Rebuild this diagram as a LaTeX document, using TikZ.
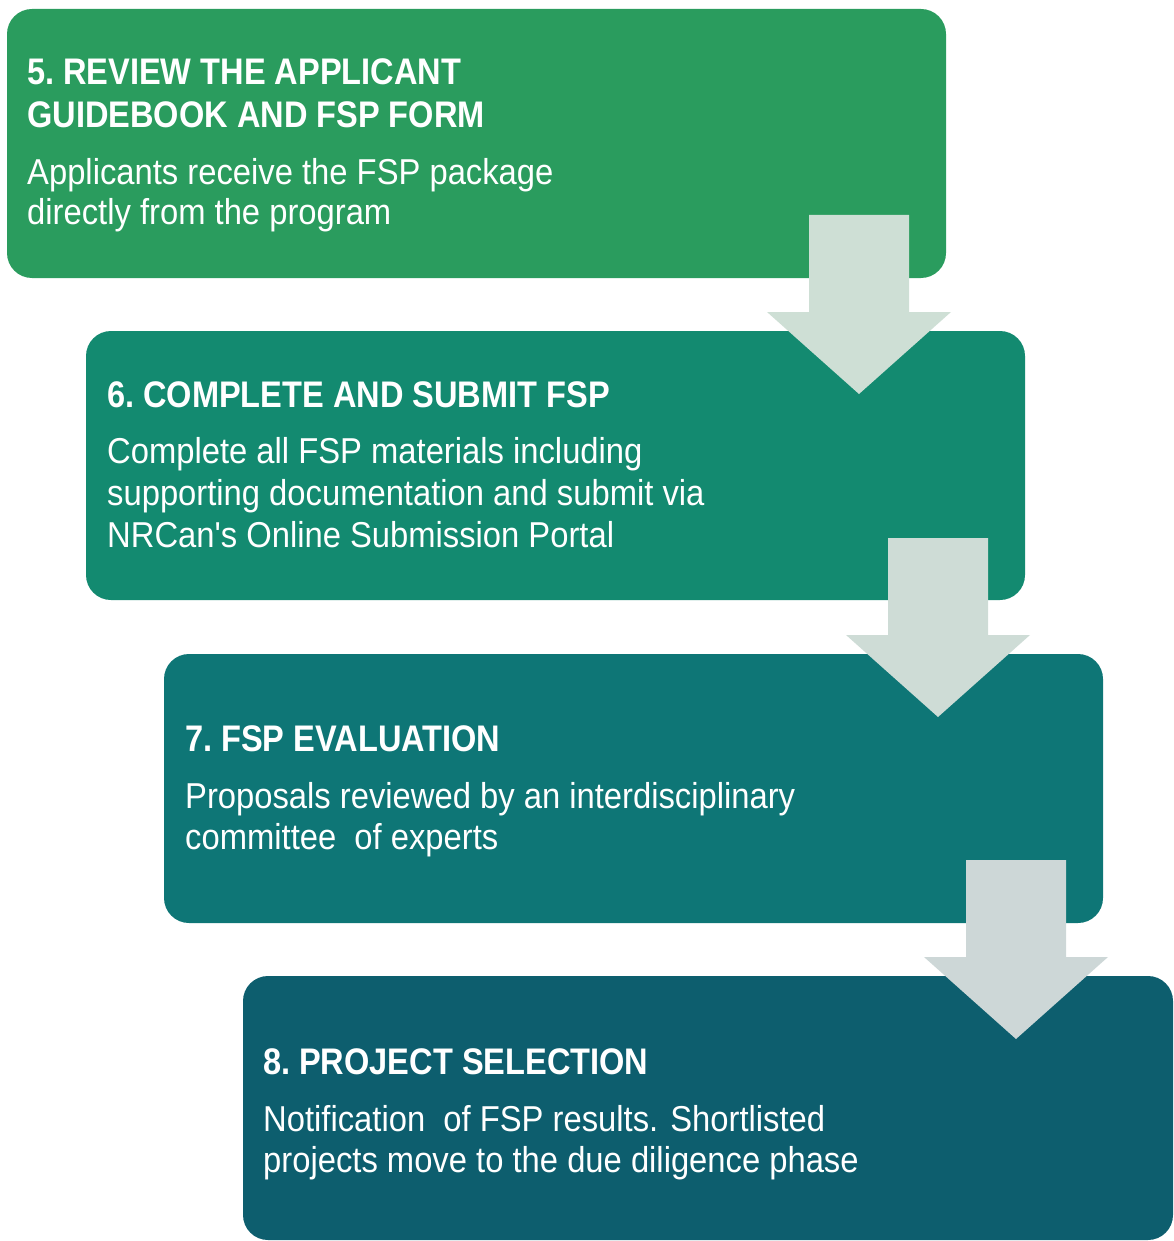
\documentclass[tikz,border=0pt]{standalone}
\usepackage{fontspec}
\setmainfont{Liberation Sans}
\newfontfamily\headfont{Liberation Sans}[FakeStretch=0.88]
\newfontfamily\bodyfont{Liberation Sans}[FakeStretch=0.91]
\definecolor{stepA}{HTML}{2A9C5E}
\definecolor{stepB}{HTML}{138A70}
\definecolor{stepC}{HTML}{0E7676}
\definecolor{stepD}{HTML}{0D5E6E}
\definecolor{arrowA}{HTML}{CEDFD5}
\definecolor{arrowB}{HTML}{CEDCD6}
\definecolor{arrowC}{HTML}{CDD7D7}
\begin{document}
\begin{tikzpicture}[x=1pt,y=-1pt,
  panel/.style={rounded corners=25pt},
  headline/.style={anchor=base west,inner sep=0pt,text=white,
    font=\headfont\bfseries\fontsize{37}{42}\selectfont},
  bodyline/.style={anchor=base west,inner sep=0pt,text=white,
    font=\bodyfont\fontsize{36}{41}\selectfont},
  downarrow/.pic={\path[fill] (-50,0) -- (50,0) -- (50,97) -- (92,97)
    -- (0,179) -- (-92,97) -- (-50,97) -- cycle;}]
\useasboundingbox (0,0) rectangle (1174,1241);

% step panels
\fill[stepA,panel] (7,9) rectangle (946,278);
\fill[stepB,panel] (86,331) rectangle (1025,600);
\fill[stepC,panel] (164,654) rectangle (1103,923);
\fill[stepD,panel] (243,976) rectangle (1173,1240);

% arrows between the steps
\pic[fill=arrowA] at (859,215) {downarrow};
\pic[fill=arrowB] at (938,538) {downarrow};
\pic[fill=arrowC] at (1016,860) {downarrow};

% step 5
\node[headline] (h5a) at (27,85) {5.\hspace{0.24em}REVIEW THE APPLICANT};
\node[headline] (h5b) at (27,128) {GUIDEBOOK AND FSP FORM};
\node[bodyline] (b5a) at (27,185) {Applicants receive the FSP package};
\node[bodyline] (b5b) at (27,225) {directly from the program};

% step 6
\node[headline] (h6) at (107,407) {6.\hspace{0.24em}COMPLETE AND SUBMIT FSP};
\node[bodyline] (b6a) at (107,463) {Complete all FSP materials including};
\node[bodyline] (b6b) at (107,505) {supporting documentation and submit via};
\node[bodyline] (b6c) at (107,547) {NRCan's Online Submission Portal};

% step 7
\node[headline] (h7) at (185,751) {7.\hspace{0.24em}FSP EVALUATION};
\node[bodyline] (b7a) at (185,808) {Proposals reviewed by an interdisciplinary};
\node[bodyline] (b7b) at (185,849) {committee~ of experts};

% step 8
\node[headline] (h8) at (263,1074) {8.\hspace{0.24em}PROJECT SELECTION};
\node[bodyline] (b8a) at (263,1131) {Notification~ of FSP results. Shortlisted};
\node[bodyline] (b8b) at (263,1172) {projects move to the due diligence phase};
\end{tikzpicture}
\end{document}
